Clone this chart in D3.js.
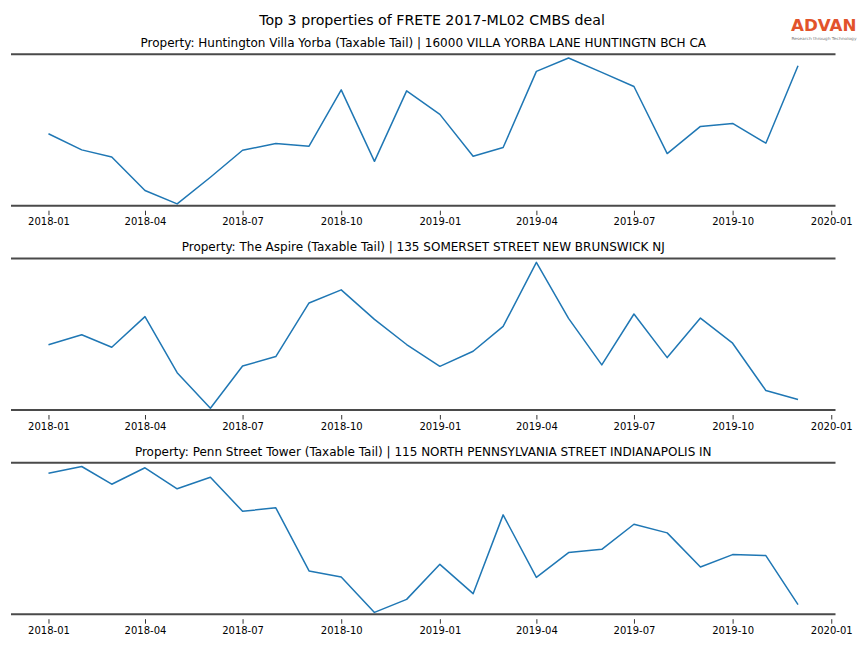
<!DOCTYPE html>
<html><head><meta charset="utf-8">
<script src="https://cdn.jsdelivr.net/npm/d3@7"></script>
<style>body{margin:0;background:#fff}svg{display:block}text{font-family:"DejaVu Sans",sans-serif}</style>
</head><body><svg id="c" width="864" height="648"></svg>
<script>
const months = ["2018-01","2018-02","2018-03","2018-04","2018-05","2018-06","2018-07","2018-08","2018-09","2018-10","2018-11","2018-12",
"2019-01","2019-02","2019-03","2019-04","2019-05","2019-06","2019-07","2019-08","2019-09","2019-10","2019-11","2019-12"];
const tickLabels = ["2018-01","2018-04","2018-07","2018-10","2019-01","2019-04","2019-07","2019-10","2020-01"];
const mainTitle = "Top 3 properties of FRETE 2017-ML02 CMBS deal";
const titles = [
 "Property: Huntington Villa Yorba (Taxable Tail) | 16000 VILLA YORBA LANE HUNTINGTN BCH CA",
 "Property: The Aspire (Taxable Tail) | 135 SOMERSET STREET NEW BRUNSWICK NJ",
 "Property: Penn Street Tower (Taxable Tail) | 115 NORTH PENNSYLVANIA STREET INDIANAPOLIS IN"
];
const huntington = [78.0,62.0,55.0,21.6,8.3,34.8,61.6,68.3,65.6,121.6,50.6,120.6,97.3,55.6,64.3,140.0,153.3,139.0,125.0,58.3,85.3,88.3,68.6,145.6];
const aspire = [71.0,81.0,68.6,99.0,43.3,8.0,50.0,59.3,112.6,125.6,96.3,71.3,49.6,64.6,89.3,153.0,97.3,51.0,101.6,58.3,97.6,72.6,25.6,16.6];
const penn = [147.0,153.7,136.0,152.4,131.4,143.0,109.0,112.4,49.4,43.4,8.0,21.0,56.0,26.7,105.4,43.0,67.7,71.0,96.0,87.4,53.4,65.7,64.7,15.7];
const series = [huntington, aspire, penn];

const svg = d3.select("#c");
const parse = d3.timeParse("%Y-%m");
const dates = months.map(parse);
const left = 11, right = 835.5, axH = 160.5, tops = [50.7, 255.0, 459.2];
const t0 = +dates[0], t1 = +dates[dates.length-1], span = t1 - t0;
const x = d3.scaleTime().domain([new Date(t0 - 0.05*span), new Date(t1 + 0.05*span)]).range([left, right]);

svg.append("text").attr("x", 432).attr("y", 25).attr("text-anchor","middle").attr("font-size", 14.2).text(mainTitle);

series.forEach((vals, i) => {
  const top = tops[i], bot = top + axH;
  const ext = d3.extent(vals), r = ext[1]-ext[0];
  const y = d3.scaleLinear().domain([ext[0]-0.05*r, ext[1]+0.05*r]).range([bot, top]);
  const g = svg.append("g");
  g.append("text").attr("x", (left+right)/2).attr("y", top - 3.7).attr("text-anchor","middle").attr("font-size", 12).text(titles[i]);
  g.append("line").attr("x1", left).attr("x2", right).attr("y1", top+3.6).attr("y2", top+3.6).attr("stroke","#4a4a4a").attr("stroke-width",2);
  g.append("line").attr("x1", left).attr("x2", right).attr("y1", bot-5.4).attr("y2", bot-5.4).attr("stroke","#4a4a4a").attr("stroke-width",2);
  const ax = d3.axisBottom(x).tickValues(tickLabels.map(parse)).tickFormat(d3.timeFormat("%Y-%m")).tickSize(4.5).tickPadding(3);
  const ag = g.append("g").attr("transform", `translate(0,${bot-0.5})`).call(ax);
  ag.select(".domain").remove();
  ag.selectAll(".tick line").attr("stroke","#000").attr("stroke-width",0.8);
  ag.selectAll(".tick text").attr("font-size",10).attr("font-family","DejaVu Sans").attr("fill","#000");
  const line = d3.line().x((d,j)=>x(dates[j])).y(d=>y(d));
  g.append("path").datum(vals).attr("d", line).attr("fill","none").attr("stroke","#1f77b4").attr("stroke-width",1.5).attr("stroke-linejoin","round");
});

// logo
const logo = svg.append("g");
logo.append("text").attr("x", 791).attr("y", 31.3).attr("font-size", 15.5).attr("font-weight","bold").attr("fill","#e2532b")
  .attr("font-family","Liberation Sans, Arial, sans-serif").attr("textLength", 65.5).attr("lengthAdjust","spacingAndGlyphs").text("ADVAN");
logo.append("text").attr("x", 791.5).attr("y", 39.5).attr("font-size", 4).attr("fill","#777")
  .attr("font-family","Liberation Sans, Arial, sans-serif").attr("textLength", 65).attr("lengthAdjust","spacingAndGlyphs").text("Research through Technology");
</script></body></html>
